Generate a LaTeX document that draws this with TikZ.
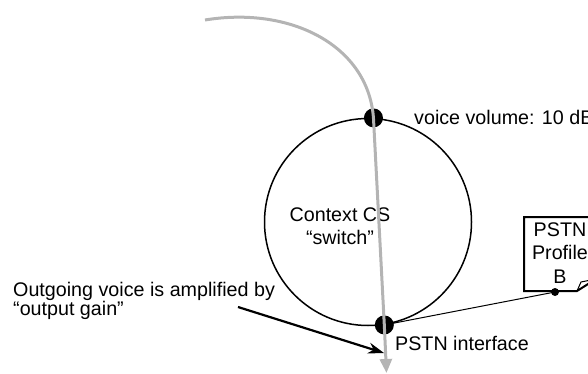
\documentclass[tikz,border=0pt]{standalone}
\usepackage{fontspec}
\setmainfont{Liberation Sans}
\usetikzlibrary{arrows.meta}
\definecolor{flowgray}{RGB}{180,180,180}
\tikzset{
  lbl/.style={font=\fontsize{19.7}{23.5}\selectfont, inner sep=0pt},
  joint/.style={circle, fill=black, minimum size=19pt, inner sep=0pt},
  pin/.style={circle, fill=black, minimum size=8pt, inner sep=0pt},
}

\begin{document}
\begin{tikzpicture}[x=1pt,y=-1pt]
  \clip (0,0) rectangle (588,374);
  %% 1. Switch
  \node[circle, draw, line width=1.5pt, minimum size=207pt, inner sep=0pt] (ctx) at (368,222) {};
  \node[lbl, align=center] (ctxlbl) at (340,226) {Context CS\\“switch”};
  %% 2. Profile
  \draw[line width=2pt] (524,217) -- (596,217) -- (596,279) -- (577,291) -- (524,291) -- cycle;
  \draw[line width=1pt] (577,291) -- (581,282) -- (596,279);
  \node[lbl, align=center] (prof) at (560,253) {PSTN\\Profile\\B};
  \node[pin] (profpin) at (555,292) {};
  %% 3. Joints and links
  \node[joint] (top) at (ctx.87) {};
  \node[joint] (bot) at (ctx.-81) {};
  \draw[line width=1pt] (bot.center) -- (profpin.center);
  \coordinate (src) at (205,20);
  \coordinate (sink) at (386.5,373);
  \draw[flowgray, line width=3pt, -{Triangle[length=14pt,width=12pt]}]
    (src) .. controls (290,6) and (368,45) .. (top.center) -- (bot.center) -- (sink);
  %% 4. Labels
  \node[lbl, anchor=west] (vol) at (414,117) {voice volume: 10 dB};
  \node[lbl, anchor=west] (pstn) at (395,343) {PSTN interface};
  \node[lbl, anchor=west, align=left, font=\fontsize{19.7}{18.5}\selectfont] (gain) at (13,301) {Outgoing voice is amplified by\\“output gain”};
  \coordinate (note) at (238,307);
  \coordinate (hit) at (384,353);
  \draw[line width=2.2pt, -{Stealth[length=16pt,width=11pt]}] (note) -- (hit);
\end{tikzpicture}
\end{document}
